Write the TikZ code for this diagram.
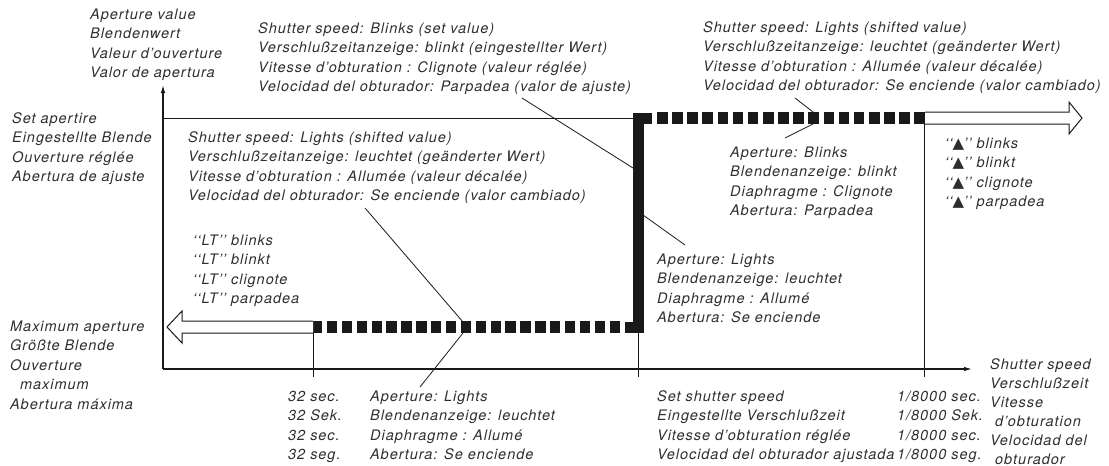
\documentclass[tikz,border=0pt]{standalone}
\usepackage{fontspec}
\setmainfont{TeX Gyre Heros}[LetterSpace=6.6]
\newfontfamily\symfont{DejaVu Sans}
\usetikzlibrary{arrows.meta}
\newcommand{\trimark}{{\symfont\fontsize{15}{15}\selectfont ▲}}
\begin{document}
\begin{tikzpicture}[x=1pt,y=-1pt,
  txt/.style={inner sep=0pt, anchor=base west, align=left,
    font=\fontsize{14.5}{19.5}\selectfont\itshape, text=black!82},
  axisline/.style={line width=1.2pt, black!90, -{Latex[length=8pt,width=4.5pt]}},
  thinline/.style={line width=1pt, black!90},
  leader/.style={line width=0.8pt, black!90},
  hollow/.style={line width=1pt, black!90, fill=white, line join=miter},
  squares/.style={line width=11.5pt, black!90},
  thick L/.style={line width=11pt, black!90, line join=miter}
]
\useasboundingbox (0,0) rectangle (1109,466);

% axes
\coordinate (O) at (163,369);
\coordinate (ytip) at (163,85);
\coordinate (xtip) at (972,369);
\draw[axisline] (O) -- (ytip);
\draw[axisline] (O) -- (xtip);

% key points
\coordinate (setA) at (163,118);
\coordinate (cornerT) at (638,118);
\coordinate (cornerB) at (638,327);
\coordinate (lowL) at (313,327);
\coordinate (upR) at (924,118);

% set aperture line
\draw[thinline] (setA) -- (633,118);
% vertical guides and ticks
\draw[thinline] (lowL) -- (313,377);
\draw[thinline] (638,330) -- (638,377);
\draw[thinline] (upR) -- (924,377);

% dashed (square) runs
\draw[squares, dash pattern=on 10.4pt off 4.48pt] (312,327) -- (620,327);
\draw[squares, dash pattern=on 10.6pt off 4.54pt] (657,118) -- (925,118);
\draw[thick L] (625,327) -- (cornerB) -- (cornerT) -- (652,118);

% hollow arrows
\draw[hollow] (313,321) -- (182,321) -- (182,311) -- (167,327) -- (182,343) -- (182,333) -- (313,333);
\draw[hollow] (925,112) -- (1069,112) -- (1069,102) -- (1082,118) -- (1069,134) -- (1069,124) -- (925,124);

% texts (anchored at the baseline of the last line)
\node[txt] (apval) at (90,77.5) {Aperture value\\Blendenwert\\Valeur d’ouverture\\Valor de apertura};
\node[txt] (setap) at (12,181.5) {Set apertire\\Eingestellte Blende\\Ouverture réglée\\Abertura de ajuste};
\node[txt] (ssblink) at (258,91.5) {Shutter speed: Blinks (set value)\\Verschlußzeitanzeige: blinkt (eingestellter Wert)\\Vitesse d’obturation : Clignote (valeur réglée)\\Velocidad del obturador: Parpadea (valor de ajuste)};
\node[txt] (sslL) at (188,200.5) {Shutter speed: Lights (shifted value)\\Verschlußzeitanzeige: leuchtet (geänderter Wert)\\Vitesse d’obturation : Allumée (valeur décalée)\\Velocidad del obturador: Se enciende (valor cambiado)};
\node[txt] (sslR) at (703,90.5) {Shutter speed: Lights (shifted value)\\Verschlußzeitanzeige: leuchtet (geänderter Wert)\\Vitesse d’obturation : Allumée (valeur décalée)\\Velocidad del obturador: Se enciende (valor cambiado)};
\node[txt] (apblink) at (730,215.5) {Aperture: Blinks\\Blendenanzeige: blinkt\\Diaphragme : Clignote\\Abertura: Parpadea};
\node[txt] (trilab) at (945,206.5) {‘‘\trimark’’ blinks\\‘‘\trimark’’ blinkt\\‘‘\trimark’’ clignote\\‘‘\trimark’’ parpadea};
\node[txt] (ltlab) at (193,303.5) {‘‘LT’’ blinks\\‘‘LT’’ blinkt\\‘‘LT’’ clignote\\‘‘LT’’ parpadea};
\node[txt] (aplR) at (657,322.5) {Aperture: Lights\\Blendenanzeige: leuchtet\\Diaphragme : Allumé\\Abertura: Se enciende};
\node[txt] (maxap) at (10,409) {Maximum aperture\\Größte Blende\\Ouverture\\\hspace*{10pt}maximum\\Abertura máxima};
\node[txt] (t32) at (288,459.5) {32 sec.\\32 Sek.\\32 sec.\\32 seg.};
\node[txt] (aplB) at (370,459.5) {Aperture: Lights\\Blendenanzeige: leuchtet\\Diaphragme : Allumé\\Abertura: Se enciende};
\node[txt] (setss) at (657,459.5) {Set shutter speed\\Eingestellte Verschlußzeit\\Vitesse d’obturation réglée\\Velocidad del obturador ajustada};
\node[txt] (t8000) at (897,459.5) {1/8000 sec.\\1/8000 Sek.\\1/8000 sec.\\1/8000 seg.};
\node[txt, font=\fontsize{14.5}{19}\selectfont\itshape] (ssaxis) at (990,464) {Shutter speed\\Verschlußzeit\\Vitesse\\\hspace*{5pt}d’obturation\\Velocidad del\\\hspace*{5pt}obturador};

% leaders
\coordinate (l1a) at (522,98);  \coordinate (l1b) at (633,168);
\coordinate (l2a) at (365,208); \coordinate (l2b) at (463,322);
\coordinate (l3a) at (420,387); \coordinate (l3b) at (463,333);
\coordinate (l4a) at (685,245); \coordinate (l4b) at (643,215);
\coordinate (l5a) at (795,98);  \coordinate (l5b) at (813,112);
\coordinate (l6a) at (785,138); \coordinate (l6b) at (813,124);
\draw[leader] (l1a) -- (l1b);
\draw[leader] (l2a) -- (l2b);
\draw[leader] (l3a) -- (l3b);
\draw[leader] (l4a) -- (l4b);
\draw[leader] (l5a) -- (l5b);
\draw[leader] (l6a) -- (l6b);
\end{tikzpicture}
\end{document}
